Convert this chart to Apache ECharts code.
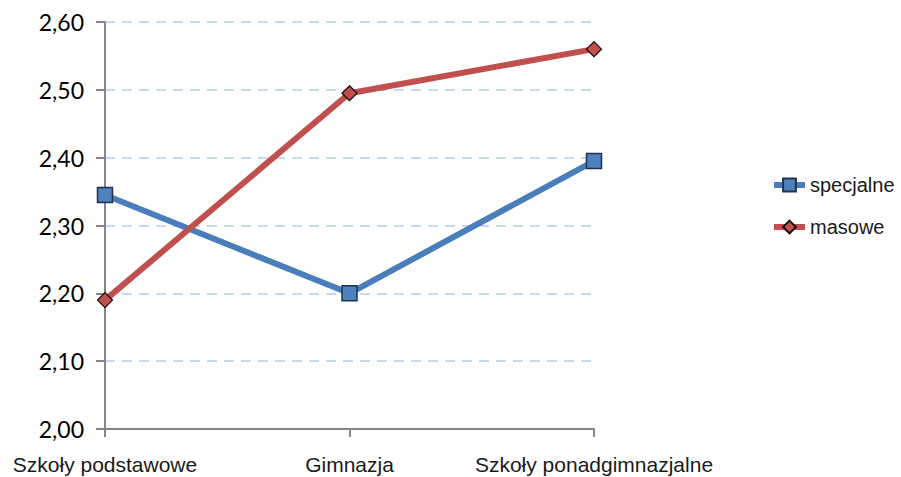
<!DOCTYPE html>
<html>
<head>
<meta charset="utf-8">
<script src="https://cdn.jsdelivr.net/npm/echarts@6/dist/echarts.min.js"></script>
<style>
  html, body { margin: 0; padding: 0; background: #fff; }
  #chart { width: 901px; height: 477px; }
</style>
</head>
<body>
<div id="chart"></div>
<script>
var categories = ['Szkoły podstawowe', 'Gimnazja', 'Szkoły ponadgimnazjalne'];
var specjalne = [2.345, 2.20, 2.395];
var masowe = [2.19, 2.495, 2.56];
var yMin = 2.0, yMax = 2.6, yStep = 0.1;

var chart = echarts.init(document.getElementById('chart'), null, { renderer: 'svg' });
chart.setOption({
  animation: false,
  grid: { left: 105, right: 307, top: 22, bottom: 48, containLabel: false },
  legend: {
    orient: 'vertical',
    left: 766,
    top: 170,
    itemWidth: 31,
    itemHeight: 16,
    itemGap: 22,
    lineStyle: { width: 6 },
    textStyle: { fontFamily: 'Liberation Sans', fontSize: 20, color: '#1a1a1a' },
    data: ['specjalne', 'masowe']
  },
  xAxis: {
    type: 'category',
    boundaryGap: false,
    data: categories,
    axisLine: { lineStyle: { color: '#868686', width: 2 } },
    axisTick: { show: true, length: 8, lineStyle: { color: '#868686', width: 2 } },
    axisLabel: { fontFamily: 'Liberation Sans', fontSize: 21, color: '#1a1a1a', margin: 25, interval: 0 },
    splitLine: { show: false }
  },
  yAxis: {
    type: 'value',
    min: yMin,
    max: yMax,
    interval: yStep,
    axisLine: { show: true, lineStyle: { color: '#868686', width: 2 } },
    axisTick: { show: true, length: 9, lineStyle: { color: '#868686', width: 2 } },
    axisLabel: {
      fontFamily: 'Lato', fontSize: 23, color: '#000', margin: 21,
      formatter: function (v) { return v.toFixed(2).replace('.', ','); }
    },
    splitLine: { show: true, lineStyle: { color: '#c6d9f0', width: 2, type: [10, 7] } }
  },
  series: [
    {
      name: 'specjalne',
      type: 'line',
      data: specjalne,
      symbol: 'rect',
      symbolSize: 15,
      lineStyle: { color: '#4a7ebb', width: 6 },
      itemStyle: { color: '#4f81bd', borderColor: '#1f3350', borderWidth: 1.5 },
      z: 3
    },
    {
      name: 'masowe',
      type: 'line',
      data: masowe,
      symbol: 'diamond',
      symbolSize: 15,
      lineStyle: { color: '#c0504d', width: 6 },
      itemStyle: { color: '#c0504d', borderColor: '#1a0a0a', borderWidth: 1.2 },
      z: 4
    }
  ]
});
</script>
</body>
</html>
